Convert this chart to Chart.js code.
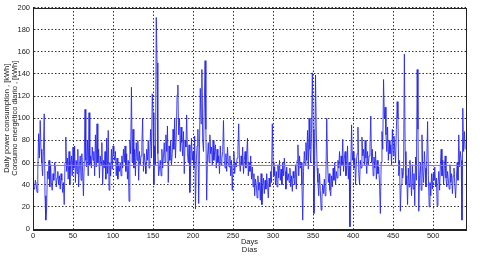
<!DOCTYPE html>
<html>
<head>
<meta charset="utf-8">
<script src="https://cdn.jsdelivr.net/npm/chart.js@4"></script>
<style>
  html, body { margin: 0; padding: 0; background: #fff; }
  canvas { display: block; }
</style>
</head>
<body>
<canvas id="consumoChart" width="500" height="259"></canvas>
<script>
// daily consumption, one value per day starting at day 0
const firstDay = 0;
const dailyKwh = [
    35, 37, 36, 44, 40, 33, 52, 86, 64, 98,
    72, 60, 48, 70, 104, 30, 8, 18, 52, 45,
    62, 38, 58, 42, 35, 50, 44, 60, 56, 38,
    46, 52, 40, 48, 36, 50, 44, 33, 42, 22,
    60, 83, 52, 64, 45, 70, 40, 58, 66, 48,
    74, 55, 75, 42, 62, 50, 72, 38, 56, 66,
    44, 68, 52, 30, 60, 108, 62, 56, 80, 48,
    105, 58, 66, 55, 74, 62, 70, 48, 85, 56,
    95, 60, 72, 46, 66, 58, 78, 40, 62, 55,
    70, 45, 82, 50, 89, 35, 60, 48, 72, 54,
    75, 68, 62, 70, 48, 64, 45, 58, 52, 60,
    48, 66, 55, 72, 60, 75, 52, 68, 45, 62,
    25, 80, 68, 128, 60, 90, 55, 72, 48, 78,
    62, 80, 44, 70, 58, 66, 76, 100, 52, 68,
    60, 50, 72, 62, 80, 55, 70, 90, 64, 122,
    105, 40, 75, 58, 191, 150, 68, 48, 55, 62,
    48, 72, 55, 66, 78, 60, 85, 70, 93, 42,
    75, 62, 80, 58, 68, 90, 72, 100, 64, 84,
    121, 130, 85, 100, 70, 92, 78, 66, 88, 50,
    80, 74, 103, 68, 60, 76, 33, 58, 82, 62,
    70, 55, 84, 18, 60, 75, 90, 23, 72, 127,
    95, 144, 80, 70, 110, 152, 90, 26, 65, 78,
    60, 85, 68, 74, 58, 80, 62, 70, 76, 55,
    72, 60, 66, 50, 75, 58, 64, 70, 98, 62,
    55, 68, 52, 74, 60, 56, 66, 48, 62, 35,
    58, 70, 50, 60, 56, 64, 72, 95, 60, 52,
    66, 58, 74, 50, 62, 70, 55, 68, 82, 48,
    60, 52, 66, 45, 56, 38, 50, 30, 45, 40,
    28, 48, 35, 42, 26, 50, 22, 38, 46, 32,
    44, 36, 50, 40, 28, 46, 38, 52, 42, 95,
    60, 48, 56, 40, 52, 38, 58, 46, 62, 44,
    54, 40, 60, 48, 64, 52, 36, 56, 44, 50,
    42, 55, 38, 48, 34, 52, 46, 40, 58, 36,
    62, 76, 48, 66, 55, 60, 40, 8, 52, 70,
    58, 78, 62, 89, 54, 100, 72, 60, 86, 141,
    90, 14, 62, 139, 85, 55, 42, 30, 50, 35,
    17, 28, 40, 32, 45, 30, 48, 100, 60, 42,
    50, 35, 30, 48, 38, 55, 44, 60, 40, 52,
    46, 62, 55, 70, 48, 66, 58, 81, 52, 64,
    70, 48, 55, 75, 45, 60, 2, 52, 94, 62,
    70, 55, 64, 40, 60, 68, 92, 50, 40, 62,
    55, 83, 66, 72, 58, 80, 64, 50, 70, 58,
    66, 74, 102, 60, 72, 48, 65, 55, 70, 45,
    62, 50, 56, 40, 14, 60, 88, 72, 135, 100,
    110, 85, 70, 92, 62, 80, 68, 76, 58, 90,
    66, 84, 72, 60, 90, 115, 100, 48, 62, 16,
    40, 55, 46, 52, 158, 70, 40, 48, 22, 55,
    38, 62, 44, 30, 58, 36, 50, 21, 65, 44,
    144, 90, 16, 48, 60, 35, 85, 52, 42, 70,
    55, 38, 62, 97, 48, 20, 42, 30, 50, 36,
    50, 44, 56, 38, 46, 21, 40, 52, 35, 58,
    72, 48, 62, 40, 55, 66, 46, 38, 52, 44,
    36, 58, 42, 50, 32, 48, 55, 40, 28, 46,
    60, 44, 85, 56, 70, 62, 8, 109, 70, 88,
    72,
];
// red reference line (average level) and its x extent
const meanKwh = [57.4];
const dayRange = [0, 541];
const yRange = [0, 200];
const xStep = 50;
const yStep = 20;
const xTitle = ["Days", "Días"];
const yTitle = ["Daily power consumption , [kWh]", "Consumo energético diario , [kWh]"];

const tickFont = { family: "'Liberation Sans Narrow', 'Liberation Sans', Arial, sans-serif", size: 7.5 };
const titleFont = { family: "'Liberation Sans Narrow', 'Liberation Sans', Arial, sans-serif", size: 7.5, lineHeight: 1.07 };

// black frame round the plot, like the original figure
const frame = {
    id: "frame",
    afterDatasetsDraw(chart) {
        const a = chart.chartArea;
        const ctx = chart.ctx;
        ctx.save();
        ctx.strokeStyle = "#222";
        ctx.lineWidth = 1;
        ctx.setLineDash([]);
        ctx.strokeRect(Math.round(a.left) + 0.5, Math.round(a.top) + 0.5,
            Math.round(a.right - a.left), Math.round(a.bottom - a.top));
        ctx.restore();
    },
};

document.addEventListener("DOMContentLoaded", function () {
    const el = document.getElementById("consumoChart");
    const points = dailyKwh.map((v, i) => ({ x: firstDay + i, y: v }));
    const meanPoints = dayRange.map((d) => ({ x: d, y: meanKwh[0] }));

    new Chart(el.getContext("2d"), {
        type: "line",
        data: {
            datasets: [
                {
                    label: "mean",
                    data: meanPoints,
                    borderColor: "rgb(235, 90, 90)",
                    borderWidth: 1,
                    pointRadius: 0,
                    order: 0,
                },
                {
                    label: "consumo",
                    data: points,
                    borderColor: "rgba(35, 35, 240, 0.85)",
                    borderWidth: 1,
                    pointRadius: 0,
                    tension: 0,
                    order: 1,
                },
            ],
        },
        options: {
            responsive: false,
            animation: false,
            devicePixelRatio: 1,
            layout: { padding: { top: 5, right: 34, left: 0, bottom: 0 } },
            plugins: { legend: { display: false }, tooltip: { enabled: false } },
            scales: {
                x: {
                    type: "linear",
                    min: dayRange[0],
                    max: dayRange[1],
                    ticks: { stepSize: xStep, font: tickFont, color: "#222", padding: 2, maxRotation: 0 },
                    afterBuildTicks: (s) => { s.ticks = s.ticks.filter((t) => t.value % xStep === 0); },
                    afterFit: (s) => { s.height = 30; },
                    grid: { color: "#333", drawTicks: false },
                    border: { display: true, color: "#222", dash: [1.5, 2] },
                    title: { display: true, text: xTitle, font: titleFont, color: "#222", padding: { top: 0, bottom: 5 } },
                },
                y: {
                    min: yRange[0],
                    max: yRange[1],
                    ticks: { stepSize: yStep, font: tickFont, color: "#222", padding: 3 },
                    afterFit: (s) => { s.width = 33; },
                    grid: { color: "#333", drawTicks: false },
                    border: { display: true, color: "#222", dash: [1.5, 2] },
                    title: { display: true, text: yTitle, font: titleFont, color: "#222", padding: { top: 3, bottom: 0 } },
                },
            },
        },
        plugins: [frame],
    });
});
</script>
</body>
</html>
